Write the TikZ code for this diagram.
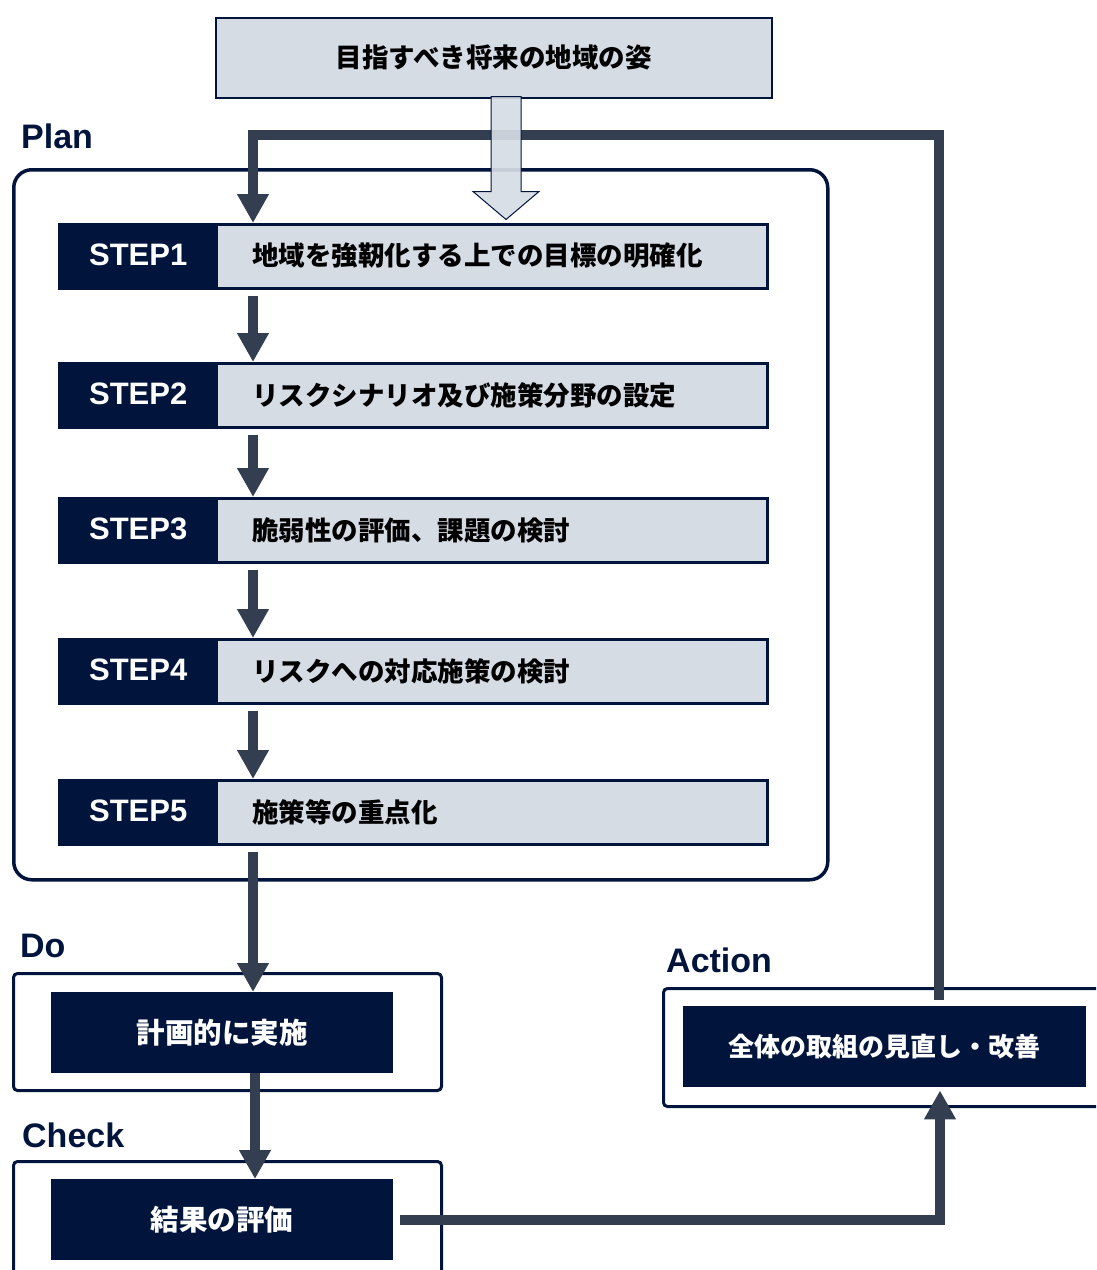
\documentclass[tikz,border=0pt]{standalone}
\usepackage{fontspec}
\setmainfont{Liberation Sans}
\newfontfamily\jp{Noto Sans CJK JP}
\usetikzlibrary{arrows.meta}
\definecolor{navy}{HTML}{00143C}
\definecolor{slate}{HTML}{333F50}
\definecolor{pale}{HTML}{D6DCE4}
\tikzset{
  conn/.style={draw=slate, line width=10pt, -{Triangle[width=30pt,length=29pt]}},
  rowbox/.style={draw=navy, fill=pale, line width=2.5pt, minimum width=708pt, minimum height=64pt, anchor=north west, inner sep=0pt},
  steplbl/.style={fill=navy, text=white, minimum width=160pt, minimum height=64pt, anchor=north west, inner sep=0pt, font=\bfseries\fontsize{31pt}{34pt}\selectfont},
  steptxt/.style={anchor=west, inner sep=0pt, text=black, font=\jp\bfseries\fontsize{26.5pt}{30pt}\selectfont},
  phase/.style={anchor=base west, inner sep=0pt, text=navy, font=\bfseries\fontsize{34pt}{38pt}\selectfont},
  outerbox/.style={draw=navy, line width=3pt, rounded corners=4pt, anchor=north west, inner sep=0pt},
  darkbox/.style={fill=navy, text=white, anchor=north west, inner sep=0pt},
  darktxt/.style={text=white, inner sep=0pt, font=\jp\bfseries\fontsize{28.5pt}{32pt}\selectfont},
  hollow/.style={draw=navy, line width=1pt, fill=pale, fill opacity=0.92, line join=miter}
}
\begin{document}
\begin{tikzpicture}[x=1pt, y=-1pt]
\useasboundingbox (0,0) rectangle (1096,1270);
\clip (0,0) rectangle (1096,1270);

% Plan frame
\node[draw=navy, line width=3.5pt, rounded corners=18pt, minimum width=814pt, minimum height=710pt, anchor=north west, inner sep=0pt] (plan) at (12,168) {};
\node[phase] (planlbl) at (21,148) {Plan};

% Goal box
\node[draw=navy, fill=pale, line width=1.5pt, minimum width=556pt, minimum height=80pt, anchor=north west, inner sep=0pt] (goal) at (215,17) {};
\node[steptxt, anchor=center] (goaltxt) at (goal.center) {目指すべき将来の地域の姿};

% Steps
\foreach \i/\y/\t in {1/223/地域を強靭化する上での目標の明確化,
                       2/362/リスクシナリオ及び施策分野の設定,
                       3/497/脆弱性の評価、課題の検討,
                       4/638/リスクへの対応施策の検討,
                       5/779/施策等の重点化}{
  \node[rowbox] (r\i) at (58,\y) {};
  \node[steplbl] (l\i) at (58,\y) {STEP\i};
  \node[steptxt] (t\i) at (252,\y+33) {\t};
}

\coordinate (ax) at (253,135);
\coordinate (fbx) at (939,135);
\coordinate (hx) at (506,0);

% Do / Check / Action
\node[phase] (dolbl) at (20,957) {Do};
\node[outerbox, minimum width=428pt, minimum height=117pt] (doout) at (12,972) {};
\node[darkbox, minimum width=342pt, minimum height=81pt] (doin) at (51,992) {};
\node[darktxt] (dotxt) at (doin.center) {計画的に実施};

\node[phase] (chlbl) at (22,1147) {Check};
\node[outerbox, minimum width=428pt, minimum height=140pt] (chout) at (12,1160) {};
\node[darkbox, minimum width=342pt, minimum height=81pt] (chin) at (51,1179) {};
\node[darktxt] (chtxt) at (chin.center) {結果の評価};

\node[phase] (aclbl) at (666,972) {Action};
\node[outerbox, minimum width=460pt, minimum height=118pt] (acout) at (662,987) {};
\node[darkbox, minimum width=403pt, minimum height=81pt] (acin) at (683,1006) {};
\node[darktxt, font=\jp\bfseries\fontsize{26pt}{30pt}\selectfont] (actxt) at (acin.center) {全体の取組の見直し・改善};

% Feedback loop
\draw[conn] ([yshift=6pt]acin.north -| fbx) -- (fbx) -- (ax) -- (r1.north -| ax);

% Hollow arrow
\draw[hollow] ([yshift=2pt]goal.south -| hx) ++(-15,0) -- ++(0,95) -- ++(-18,0) -- ++(33,28) -- ++(33,-28) -- ++(-18,0) -- ++(0,-95) -- cycle;

% Step arrows
\foreach \a/\b in {1/2,2/3,3/4,4/5}{
  \draw[conn, shorten <=6pt] (r\a.south -| ax) -- (r\b.north -| ax);
}
\draw[conn, shorten <=6pt] (r5.south -| ax) -- (doin.north -| ax);
\coordinate (dx) at (255,0);
\draw[conn] (doin.south -| dx) -- (chin.north -| dx);
\coordinate (ux) at (940,0);
\draw[conn] ([xshift=7pt]chin.east) -| ([yshift=-3pt]acin.south -| ux);
\end{tikzpicture}
\end{document}
